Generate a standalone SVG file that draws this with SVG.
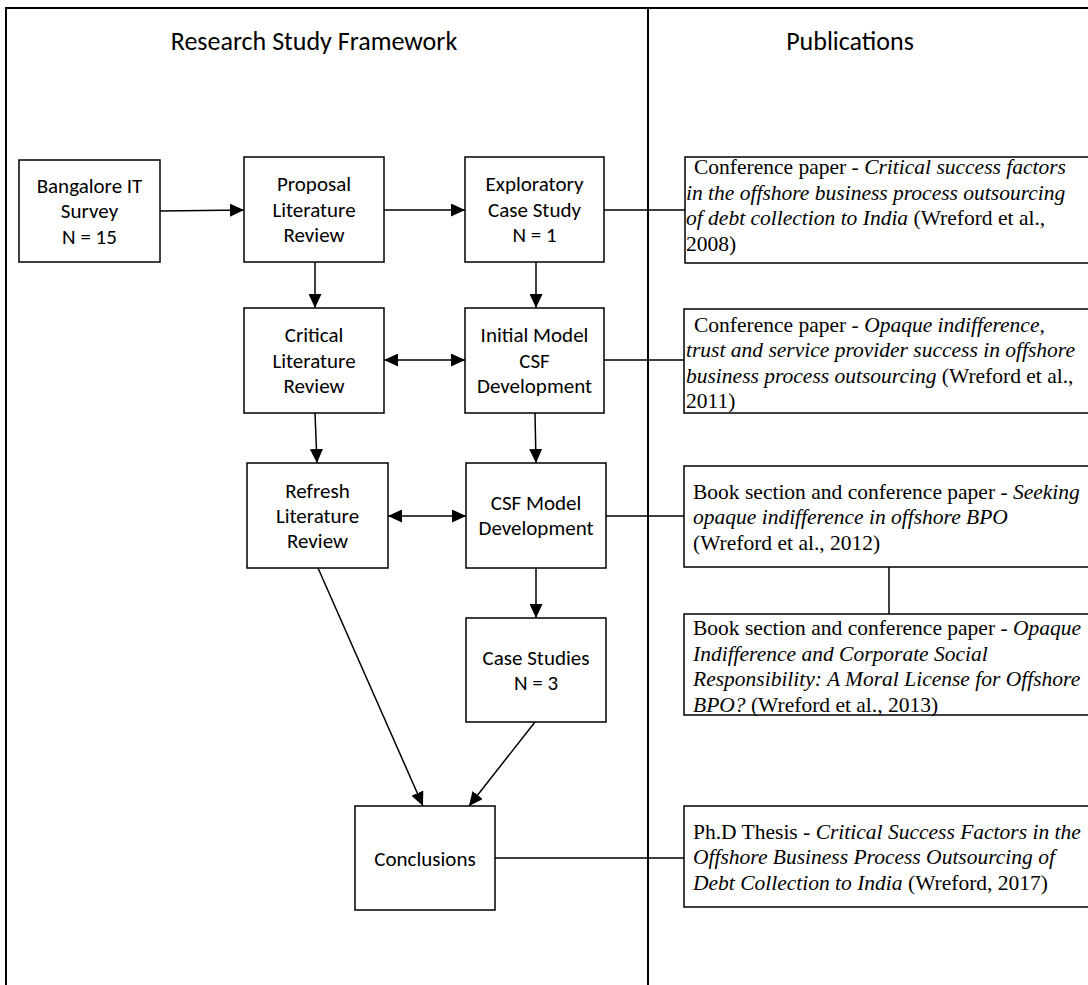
<svg xmlns="http://www.w3.org/2000/svg" width="1088" height="985" viewBox="0 0 1088 985">
  <defs>
    <style>
      .frame { stroke: #000; stroke-width: 2; fill: none; }
      .box { fill: #fff; stroke: #000; stroke-width: 1.5; }
      .conn { stroke: #000; stroke-width: 1.5; fill: none; }
      .arrow { marker-end: url(#head); }
      .both { marker-start: url(#head); marker-end: url(#head); }
      .lbl { font-family: Carlito, Calibri, Lato, sans-serif; font-size: 21px; fill: #000; text-anchor: middle; }
      .title { font-family: Carlito, Calibri, Lato, sans-serif; font-size: 26px; fill: #000; text-anchor: middle; }
      .pub { font-family: "Liberation Serif", "Times New Roman", serif; font-size: 21.5px; fill: #000; }
      .it { font-style: italic; }
    </style>
    <marker id="head" markerUnits="userSpaceOnUse" markerWidth="14" markerHeight="13" refX="14" refY="6.5" orient="auto-start-reverse">
      <path d="M0,0 L14,6.5 L0,13 z" fill="#000"/>
    </marker>
  </defs>

  <rect width="1088" height="985" fill="#fff"/>

  <!-- outer frame and column divider -->
  <g id="frame">
    <path class="frame" d="M6,985 V8 H1088"/>
    <line class="frame" x1="648" y1="8" x2="648" y2="985"/>
    <text class="title" x="314" y="50">Research Study Framework</text>
    <text class="title" x="850" y="50">Publications</text>
  </g>

  <!-- connectors -->
  <g id="connectors">
    <line class="conn arrow" x1="160" y1="211" x2="244" y2="210"/>
    <line class="conn arrow" x1="384" y1="210" x2="465" y2="210"/>
    <line class="conn arrow" x1="315" y1="262" x2="315" y2="308"/>
    <line class="conn arrow" x1="536" y1="262" x2="536" y2="308"/>
    <line class="conn both" x1="384" y1="360" x2="465" y2="360"/>
    <line class="conn arrow" x1="315" y1="413" x2="317" y2="463"/>
    <line class="conn arrow" x1="535" y1="413" x2="536" y2="463"/>
    <line class="conn both" x1="388" y1="516" x2="466" y2="516"/>
    <line class="conn arrow" x1="536" y1="568" x2="536" y2="618"/>
    <line class="conn arrow" x1="318" y1="568" x2="423" y2="806"/>
    <line class="conn arrow" x1="535" y1="722" x2="469" y2="806"/>
    <line class="conn" x1="604" y1="210" x2="685" y2="210"/>
    <line class="conn" x1="604" y1="360" x2="684" y2="360"/>
    <line class="conn" x1="606" y1="516" x2="684" y2="516"/>
    <line class="conn" x1="889" y1="567" x2="889" y2="614"/>
    <line class="conn" x1="495" y1="858" x2="684" y2="858"/>
  </g>

  <!-- research framework steps -->
  <g id="bangalore">
    <rect class="box" x="19" y="160" width="141" height="102"/>
    <text class="lbl" x="89.5" y="193">Bangalore IT</text>
    <text class="lbl" x="89.5" y="218">Survey</text>
    <text class="lbl" x="89.5" y="243.5">N = 15</text>
  </g>
  <g id="proposal">
    <rect class="box" x="244" y="157" width="140" height="105"/>
    <text class="lbl" x="314" y="191">Proposal</text>
    <text class="lbl" x="314" y="216.5">Literature</text>
    <text class="lbl" x="314" y="242">Review</text>
  </g>
  <g id="exploratory">
    <rect class="box" x="465" y="157" width="139" height="105"/>
    <text class="lbl" x="534.5" y="191">Exploratory</text>
    <text class="lbl" x="534.5" y="216.5">Case Study</text>
    <text class="lbl" x="534.5" y="242">N = 1</text>
  </g>
  <g id="critical">
    <rect class="box" x="244" y="308" width="140" height="105"/>
    <text class="lbl" x="314" y="342">Critical</text>
    <text class="lbl" x="314" y="367.5">Literature</text>
    <text class="lbl" x="314" y="393">Review</text>
  </g>
  <g id="initial-model">
    <rect class="box" x="465" y="308" width="139" height="105"/>
    <text class="lbl" x="534.5" y="342">Initial Model</text>
    <text class="lbl" x="534.5" y="367.5">CSF</text>
    <text class="lbl" x="534.5" y="393">Development</text>
  </g>
  <g id="refresh">
    <rect class="box" x="247" y="463" width="141" height="105"/>
    <text class="lbl" x="317.5" y="497.5">Refresh</text>
    <text class="lbl" x="317.5" y="522.5">Literature</text>
    <text class="lbl" x="317.5" y="548">Review</text>
  </g>
  <g id="csf-model">
    <rect class="box" x="466" y="463" width="140" height="105"/>
    <text class="lbl" x="536" y="509.5">CSF Model</text>
    <text class="lbl" x="536" y="534.5">Development</text>
  </g>
  <g id="case-studies">
    <rect class="box" x="466" y="618" width="140" height="104"/>
    <text class="lbl" x="536" y="665">Case Studies</text>
    <text class="lbl" x="536" y="690">N = 3</text>
  </g>
  <g id="conclusions">
    <rect class="box" x="355" y="806" width="140" height="104"/>
    <text class="lbl" x="425" y="865.5">Conclusions</text>
  </g>

  <!-- publications -->
  <g id="pub-2008">
    <rect class="box" x="685" y="157" width="420" height="106"/>
    <text class="pub" x="694" y="174">Conference paper - <tspan class="it">Critical success factors</tspan></text>
    <text class="pub it" x="686" y="199.5">in the offshore business process outsourcing</text>
    <text class="pub" x="686" y="225"><tspan class="it">of debt collection to India</tspan> (Wreford et al.,</text>
    <text class="pub" x="686" y="250.5">2008)</text>
  </g>
  <g id="pub-2011">
    <rect class="box" x="684" y="309" width="420" height="104"/>
    <text class="pub" x="694" y="331.5">Conference paper - <tspan class="it">Opaque indifference,</tspan></text>
    <text class="pub it" x="686" y="357">trust and service provider success in offshore</text>
    <text class="pub" x="686" y="382.5"><tspan class="it">business process outsourcing</tspan> (Wreford et al.,</text>
    <text class="pub" x="686" y="408">2011)</text>
  </g>
  <g id="pub-2012">
    <rect class="box" x="684" y="466" width="420" height="101"/>
    <text class="pub" x="693" y="498.5">Book section and conference paper - <tspan class="it">Seeking</tspan></text>
    <text class="pub it" x="693" y="524">opaque indifference in offshore BPO</text>
    <text class="pub" x="693" y="549.5">(Wreford et al., 2012)</text>
  </g>
  <g id="pub-2013">
    <rect class="box" x="684" y="614" width="420" height="101"/>
    <text class="pub" x="693" y="635">Book section and conference paper - <tspan class="it">Opaque</tspan></text>
    <text class="pub it" x="693" y="660.5">Indifference and Corporate Social</text>
    <text class="pub it" x="693" y="686">Responsibility: A Moral License for Offshore</text>
    <text class="pub" x="693" y="711.5"><tspan class="it">BPO?</tspan> (Wreford et al., 2013)</text>
  </g>
  <g id="pub-2017">
    <rect class="box" x="684" y="806" width="420" height="101"/>
    <text class="pub" x="693" y="838.5">Ph.D Thesis - <tspan class="it">Critical Success Factors in the</tspan></text>
    <text class="pub it" x="693" y="864">Offshore Business Process Outsourcing of</text>
    <text class="pub" x="693" y="889.5"><tspan class="it">Debt Collection to India</tspan>  (Wreford, 2017)</text>
  </g>
</svg>
